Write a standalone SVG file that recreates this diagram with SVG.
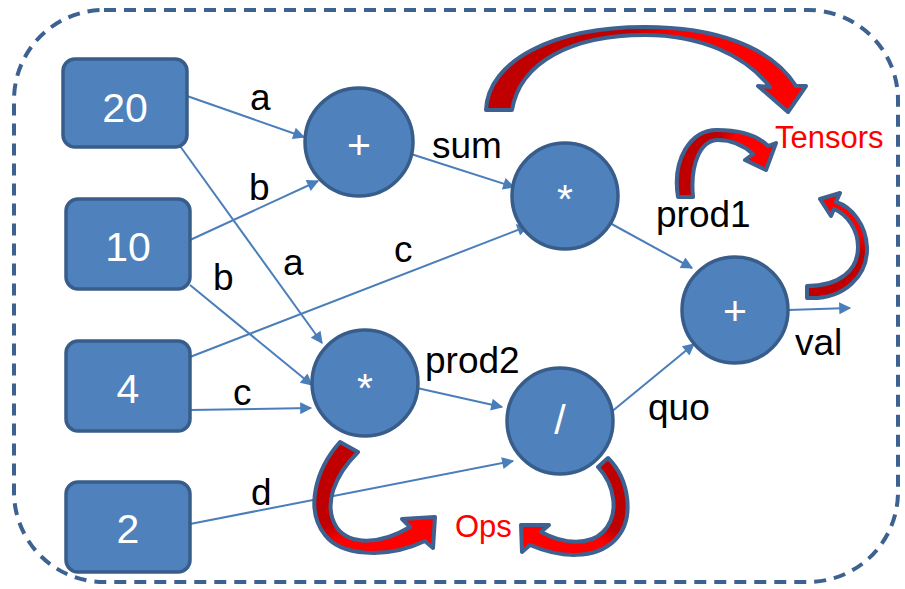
<svg xmlns="http://www.w3.org/2000/svg" width="905" height="589" viewBox="0 0 905 589">
<style>
.box{fill:#4f81bd;stroke:#385d8a;stroke-width:3.5}
.nt{fill:#fff;font-family:"Liberation Sans",Arial,sans-serif;font-size:41px;text-anchor:middle}
.lb{fill:#000;font-family:"Liberation Sans",Arial,sans-serif;font-size:37px}
.rd{fill:#ff0000;font-family:"Liberation Sans",Arial,sans-serif;font-size:31px}
.ln{stroke:#4a7ebb;stroke-width:2;fill:none;marker-end:url(#ah)}
.ca{stroke:#3d6190;stroke-width:4;stroke-linejoin:round}
</style>
<defs>
<marker id="ah" viewBox="0 0 10 10" refX="9" refY="5" markerWidth="7" markerHeight="6" orient="auto" markerUnits="strokeWidth">
<path d="M0,0 L10,5 L0,10 Z" fill="#4a7ebb"/>
</marker>
<linearGradient id="gh" x1="0" y1="0" x2="1" y2="0">
<stop offset="0" stop-color="#c00000"/><stop offset="0.45" stop-color="#c00000"/><stop offset="0.6" stop-color="#ff0000"/><stop offset="1" stop-color="#ff0000"/>
</linearGradient>
<linearGradient id="gv" x1="0" y1="1" x2="0" y2="0">
<stop offset="0" stop-color="#c00000"/><stop offset="0.45" stop-color="#c00000"/><stop offset="0.6" stop-color="#ff0000"/><stop offset="1" stop-color="#ff0000"/>
</linearGradient>
<linearGradient id="gbl" x1="0" y1="0" x2="0.6" y2="1">
<stop offset="0" stop-color="#c00000"/><stop offset="0.6" stop-color="#c00000"/><stop offset="0.75" stop-color="#ff0000"/><stop offset="1" stop-color="#ff0000"/>
</linearGradient>
<linearGradient id="gbr" x1="1" y1="0" x2="0.4" y2="1">
<stop offset="0" stop-color="#c00000"/><stop offset="0.6" stop-color="#c00000"/><stop offset="0.75" stop-color="#ff0000"/><stop offset="1" stop-color="#ff0000"/>
</linearGradient>
</defs>

<rect x="14" y="10" width="884" height="572" rx="90" ry="90" fill="none" stroke="#3d6190" stroke-width="4" stroke-dasharray="12 8"/>

<g id="connectors">
<line class="ln" x1="187" y1="96" x2="304" y2="137"/>
<line class="ln" x1="190" y1="240" x2="318" y2="181"/>
<line class="ln" x1="180" y1="146" x2="322" y2="343"/>
<line class="ln" x1="190" y1="285" x2="312" y2="385"/>
<line class="ln" x1="190" y1="357" x2="528" y2="226"/>
<line class="ln" x1="190" y1="410" x2="311" y2="408"/>
<line class="ln" x1="190" y1="524" x2="513" y2="461"/>
<line class="ln" x1="411" y1="154" x2="514" y2="187"/>
<line class="ln" x1="608" y1="222" x2="692" y2="268"/>
<line class="ln" x1="417" y1="388" x2="502" y2="407"/>
<line class="ln" x1="610" y1="413" x2="694" y2="344"/>
<line class="ln" x1="788" y1="310" x2="850" y2="308"/>
<text class="lb" x="250" y="110">a</text>
<text class="lb" x="249" y="200">b</text>
<text class="lb" x="283" y="275">a</text>
<text class="lb" x="213" y="290">b</text>
<text class="lb" x="394" y="262">c</text>
<text class="lb" x="233" y="405">c</text>
<text class="lb" x="251" y="505">d</text>
<text class="lb" x="432" y="158">sum</text>
<text class="lb" x="656" y="227">prod1</text>
<text class="lb" x="425" y="373">prod2</text>
<text class="lb" x="648" y="420">quo</text>
<text class="lb" x="795" y="355">val</text>
</g>

<g id="n20"><rect class="box" x="63" y="59" width="124" height="88" rx="12"/><text class="nt" x="125" y="122">20</text></g>
<g id="n10"><rect class="box" x="66" y="199" width="124" height="90" rx="12"/><text class="nt" x="128" y="261">10</text></g>
<g id="n4"><rect class="box" x="66" y="341" width="124" height="90" rx="12"/><text class="nt" x="128" y="403">4</text></g>
<g id="n2"><rect class="box" x="66" y="482" width="124" height="90" rx="12"/><text class="nt" x="128" y="543">2</text></g>

<g id="add1"><circle class="box" cx="359" cy="142" r="54"/><text class="nt" x="359" y="159">+</text></g>
<g id="mul1"><circle class="box" cx="565" cy="196" r="53"/><text class="nt" x="565" y="213">*</text></g>
<g id="add2"><circle class="box" cx="735" cy="310" r="53"/><text class="nt" x="735" y="325">+</text></g>
<g id="mul2"><circle class="box" cx="365" cy="383" r="53"/><text class="nt" x="365" y="402">*</text></g>
<g id="div"><circle class="box" cx="560" cy="421" r="53"/><text class="nt" x="560" y="434">/</text></g>

<g id="tensors">
<path class="ca" fill="url(#gh)" d="M486,110 C488,60 555,27 645,27 C712,27 770,45 796,86 L806,86 L788,112 L758,86 L770,87 C745,55 700,35 645,35 C572,35 520,62 512,110 Z"/>
<path class="ca" fill="url(#gh)" d="M678,197 C672,160 690,130 717,130 C740,130 758,136 768,146 L776,143 L766,170 L745,160 L753,154 C742,144 730,140 718,140 C700,140 690,165 693,197 Z"/>
<path class="ca" fill="url(#gv)" d="M807,298 C845,300 868,275 867,247 C866,225 852,207 836,202 L840,193 L820,199 L831,216 L834,209 C848,215 858,230 858,247 C858,270 840,286 807,286 Z"/>
<text class="rd" x="775" y="148">Tensors</text>
</g>

<g id="ops">
<path class="ca" fill="url(#gbl)" d="M340,442 C315,470 305,510 325,535 C340,555 385,560 425,541 L433,548 L435,517 L402,519 L410,527 C380,545 350,545 337,528 C322,505 335,475 358,452 Z"/>
<path class="ca" fill="url(#gbr)" d="M608,458 C630,480 635,520 615,540 C595,560 560,558 530,545 L522,552 L521,525 L549,525 L541,532 C565,545 590,545 603,532 C620,515 615,485 598,467 Z"/>
<text class="rd" x="455" y="537">Ops</text>
</g>
</svg>
